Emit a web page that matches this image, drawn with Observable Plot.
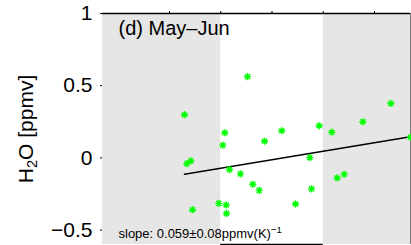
<!DOCTYPE html>
<html><head><meta charset="utf-8">
<script src="https://cdn.jsdelivr.net/npm/d3@7"></script>
<script src="https://cdn.jsdelivr.net/npm/@observablehq/plot@0.6"></script>
<style>
html,body{margin:0;padding:0;background:#fff;}
#chart svg{display:block;}
</style></head><body><div id="chart"></div>
<script>
// Temperature anomaly [K] and H2O anomaly [ppmv]
const tempAnom = [-1.707, -0.478, -0.921, -0.960, -1.662, -1.584, -0.829, -0.615, -0.375, -0.250,
                  -1.551, -1.038, -0.894, -0.888, -0.146, 0.191, 0.459, 0.738, 0.771, 0.921,
                  1.167, 1.272, 1.409, 1.772, 2.318, 2.702];
const h2oAnom  = [0.299, 0.563, 0.174, 0.088, -0.040, -0.021, -0.081, -0.111, -0.183, -0.225,
                  -0.359, -0.315, -0.326, -0.385, 0.115, 0.188, -0.319, 0.002, -0.215, 0.222,
                  0.178, -0.139, -0.114, 0.250, 0.377, 0.143];
const fitSlope = 0.059;
const fitIntercept = -0.013;
const xDomain = [-3.307, 2.702];
const yDomain = [-0.6, 1];
const xTicks = [-2, -1, 0, 1, 2];
const yTicks = [-0.5, 0, 0.5, 1];
const bandEdges = [[-3.307, -1], [1, 2.702]];
const panelTitle = "(d) May–Jun";
const yLabel = "H2O [ppmv]";
const slopeLabel = "slope: 0.059±0.08ppmv(K)";
const slopeExp = "−1";

const points = tempAnom.map((t, i) => ({t, h: h2oAnom[i]}));
const bands = bandEdges.map(([a, b]) => ({x1: a, x2: b, y1: yDomain[0], y2: yDomain[1]}));
const xr = d3.extent(tempAnom);
const fitPts = xr.map(x => ({x, y: fitIntercept + fitSlope * x}));

const asterisk = {
  draw(context, size) {
    const r = Math.sqrt(size / Math.PI);
    const d = r * Math.SQRT1_2;
    context.moveTo(-r, 0); context.lineTo(r, 0);
    context.moveTo(0, -r); context.lineTo(0, r);
    context.moveTo(-d, -d); context.lineTo(d, d);
    context.moveTo(-d, d); context.lineTo(d, -d);
  }
};

const fmt = d => d === 0 ? "0" : (d < 0 ? "−" : "") + Math.abs(d);

const svg = Plot.plot({
  width: 411, height: 245,
  marginLeft: 102, marginRight: 1, marginTop: 13, marginBottom: 1,
  style: {fontFamily: '"Liberation Sans", Arial, Helvetica, sans-serif', background: "white", color: "black"},
  x: {domain: xDomain},
  y: {domain: yDomain},
  marks: [
    Plot.rect(bands, {x1: "x1", x2: "x2", y1: "y1", y2: "y2", fill: "#e6e6e6"}),
    Plot.ruleY([yDomain[0]], {x1: -1, x2: 1, stroke: "black", strokeWidth: 1.5}),
    Plot.ruleY([yDomain[1]], {stroke: "black", strokeWidth: 1.5}),
    Plot.ruleX([xDomain[1]], {stroke: "#777", strokeWidth: 1}),
    Plot.axisY({ticks: yTicks, tickSize: 2, tickPadding: 8, fontSize: 21, tickFormat: fmt, label: null}),
    Plot.axisX({anchor: "top", ticks: xTicks, tickSize: 3, tickFormat: () => "", label: null}),
    Plot.line(fitPts, {x: "x", y: "y", stroke: "black", strokeWidth: 1.5}),
    Plot.dot(points, {x: "t", y: "h", symbol: asterisk, r: 3.6, stroke: "#00ff00", fill: "none", strokeWidth: 1.4}),
    Plot.text([panelTitle], {text: d => d, frameAnchor: "top-left", dx: 16, dy: 21, lineAnchor: "bottom", textAnchor: "start", fontSize: 20}),
    Plot.text([slopeLabel], {text: d => d, frameAnchor: "bottom-left", dx: 16, dy: -6.5, lineAnchor: "bottom", textAnchor: "start", fontSize: 13}),
    Plot.text([yLabel], {text: d => d, frameAnchor: "left", dx: -70, rotate: -90, lineAnchor: "bottom", textAnchor: "middle", fontSize: 21})
  ]
});

svg.querySelectorAll("text").forEach(t => {
  if (t.textContent === yLabel) {
    t.textContent = "";
    const ns = "http://www.w3.org/2000/svg";
    const a = document.createElementNS(ns, "tspan"); a.textContent = "H";
    const b = document.createElementNS(ns, "tspan"); b.textContent = "2";
    b.setAttribute("dy", "0.3em"); b.setAttribute("font-size", "70%");
    const c = document.createElementNS(ns, "tspan"); c.textContent = "O [ppmv]";
    c.setAttribute("dy", "-0.21em");
    t.append(a, b, c);
  } else if (t.textContent === slopeLabel) {
    const ns = "http://www.w3.org/2000/svg";
    const s = document.createElementNS(ns, "tspan"); s.textContent = slopeExp;
    s.setAttribute("dy", "-0.5em"); s.setAttribute("font-size", "75%");
    t.append(s);
  }
});

document.getElementById("chart").append(svg);
</script></body></html>
